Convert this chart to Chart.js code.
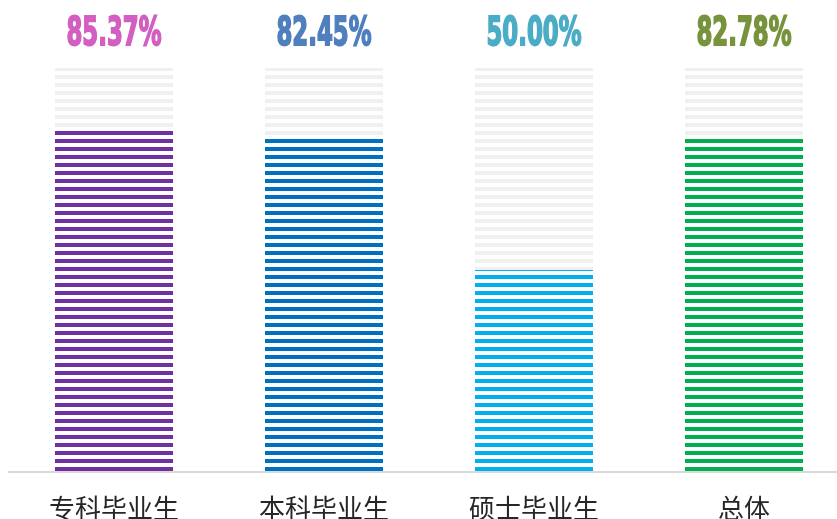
<!DOCTYPE html>
<html>
<head>
<meta charset="utf-8">
<script src="https://cdn.jsdelivr.net/npm/chart.js@4/dist/chart.umd.min.js"></script>
<style>
  html, body { margin: 0; padding: 0; background: #fff; overflow: hidden; }
  #wrap { width: 850px; height: 519px; }
</style>
</head>
<body>
<div id="wrap"><canvas id="chart" width="850" height="519"></canvas></div>
<script>
const categories = ['专科毕业生', '本科毕业生', '硕士毕业生', '总体'];
const rates = [85.37, 82.45, 50.00, 82.78];
const fullScale = [100, 100, 100, 100];
const barColors = ['#7030a0', '#0070c0', '#00b0f0', '#00b050'];
const labelColors = ['#d25fc1', '#4f7fbd', '#4bacc6', '#77933c'];

// horizontal stripe fill, 4px line every 8px
function stripes(color) {
  const c = document.createElement('canvas');
  c.width = 1; c.height = 8;
  const g = c.getContext('2d');
  g.fillStyle = color;
  g.fillRect(0, 3, 1, 4);
  return g.createPattern(c, 'repeat');
}

// percent labels above the full-height bars
const topLabels = {
  id: 'topLabels',
  afterDatasetsDraw(chart) {
    const { ctx, chartArea } = chart;
    const meta = chart.getDatasetMeta(1);
    ctx.save();
    ctx.font = 'bold 39px "Liberation Sans Narrow", "DejaVu Sans Condensed", sans-serif';
    ctx.textAlign = 'center';
    ctx.textBaseline = 'alphabetic';
    ctx.lineWidth = 1.8;
    meta.data.forEach((bar, i) => {
      ctx.save();
      ctx.translate(bar.x, chartArea.top - 23);
      ctx.scale(0.65, 1);
      ctx.fillStyle = labelColors[i];
      ctx.strokeStyle = labelColors[i];
      const txt = rates[i].toFixed(2) + '%';
      ctx.fillText(txt, 0, 0);
      ctx.strokeText(txt, 0, 0);
      ctx.restore();
    });
    ctx.restore();
  }
};

new Chart(document.getElementById('chart'), {
  type: 'bar',
  data: {
    labels: categories,
    datasets: [
      { data: fullScale, backgroundColor: stripes('#f0f0f0'), grouped: false, order: 2,
        barPercentage: 1, categoryPercentage: 0.562 },
      { data: rates, backgroundColor: barColors.map(stripes), grouped: false, order: 1,
        barPercentage: 1, categoryPercentage: 0.562 }
    ]
  },
  options: {
    responsive: false,
    animation: false,
    layout: { padding: { top: 68, left: 9, right: 1, bottom: 0 } },
    plugins: { legend: { display: false }, tooltip: { enabled: false } },
    scales: {
      x: {
        afterFit(scale) { scale.height = 47; },
        grid: { display: false, drawTicks: false },
        border: { display: true, color: '#d9d9d9', width: 2 },
        ticks: { color: '#262626', padding: 23,
          font: { family: '"Noto Sans CJK SC", sans-serif', size: 26, lineHeight: 1 } }
      },
      y: { display: false, min: 0, max: 100 }
    }
  },
  plugins: [topLabels]
});
</script>
</body>
</html>
